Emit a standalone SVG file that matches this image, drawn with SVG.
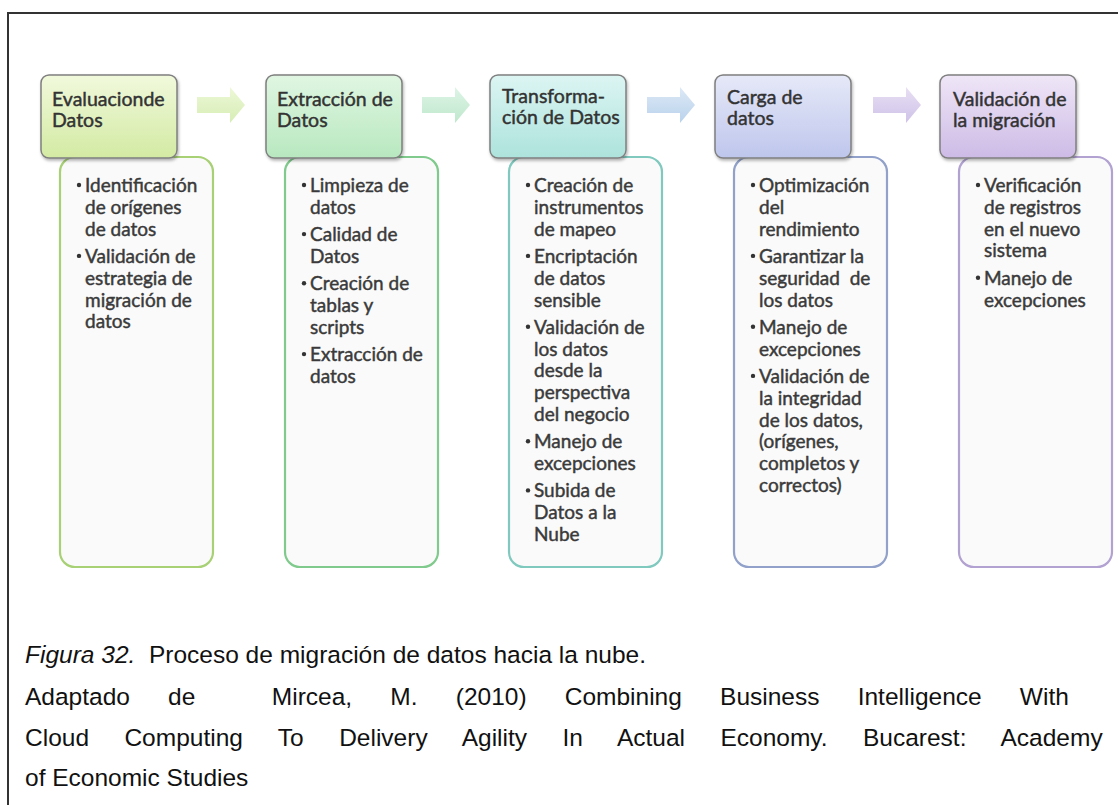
<svg xmlns="http://www.w3.org/2000/svg" width="1118" height="805" viewBox="0 0 1118 805">
<defs>
<linearGradient id="g1" x1="0" y1="0" x2="0" y2="1"><stop offset="0" stop-color="#f1f9dc"/><stop offset="1" stop-color="#d3eaa3"/></linearGradient>
<linearGradient id="g2" x1="0" y1="0" x2="0" y2="1"><stop offset="0" stop-color="#e0f6e2"/><stop offset="1" stop-color="#b8e8bf"/></linearGradient>
<linearGradient id="g3" x1="0" y1="0" x2="0" y2="1"><stop offset="0" stop-color="#dcf5f3"/><stop offset="1" stop-color="#ade3dc"/></linearGradient>
<linearGradient id="g4" x1="0" y1="0" x2="0" y2="1"><stop offset="0" stop-color="#e6e9f8"/><stop offset="1" stop-color="#bec6ec"/></linearGradient>
<linearGradient id="g5" x1="0" y1="0" x2="0" y2="1"><stop offset="0" stop-color="#efe6f7"/><stop offset="1" stop-color="#cdbbe6"/></linearGradient>
<linearGradient id="a1" x1="0" y1="0" x2="0" y2="1"><stop offset="0" stop-color="#eef8d8"/><stop offset="1" stop-color="#d6edb4"/></linearGradient>
<linearGradient id="a2" x1="0" y1="0" x2="0" y2="1"><stop offset="0" stop-color="#def4e6"/><stop offset="1" stop-color="#bfe8cd"/></linearGradient>
<linearGradient id="a3" x1="0" y1="0" x2="0" y2="1"><stop offset="0" stop-color="#dde9f6"/><stop offset="1" stop-color="#b9d2ec"/></linearGradient>
<linearGradient id="a4" x1="0" y1="0" x2="0" y2="1"><stop offset="0" stop-color="#e8e0f4"/><stop offset="1" stop-color="#cfc2e8"/></linearGradient>
<filter id="sh" x="-10%" y="-10%" width="125%" height="130%"><feDropShadow dx="1" dy="2" stdDeviation="1.5" flood-color="#000" flood-opacity="0.3"/></filter>
<path id="arrow" d="M0,10 H33 V0 L48,18 L33,36 V26 H0 Z"/>
</defs>
<style>
.hdr{stroke:#7f7f7f;stroke-width:1.5;filter:url(#sh)}
.det{fill:#fafafa;stroke-width:2.2}
.ht{font-family:Lato,"Open Sans",sans-serif;font-size:19.5px;fill:#333;stroke:#333;stroke-width:0.45}
.dt{font-family:Lato,"Open Sans",sans-serif;font-size:19px;fill:#3a3a3a;stroke:#3a3a3a;stroke-width:0.45}
.bl{fill:#333}
.cap{font-family:"Liberation Sans",Arial,sans-serif;font-size:24.5px;fill:#111;white-space:pre}
.frame{stroke:#333;stroke-width:2;fill:none}
</style>
<path class="frame" d="M8,805 V13 H1118"/>
<g id="connectors">
<use href="#arrow" x="197" y="87" fill="url(#a1)"/>
<use href="#arrow" x="422" y="87" fill="url(#a2)"/>
<use href="#arrow" x="647" y="87" fill="url(#a3)"/>
<use href="#arrow" x="873" y="87" fill="url(#a4)"/>
</g>
<g id="step1">
<rect class="det" x="60" y="157" width="153" height="410" rx="15" stroke="#a8d075"/>
<rect class="hdr" x="41" y="75" width="136" height="83" rx="8" fill="url(#g1)"/>
<text class="ht" x="52" y="106">Evaluacionde</text>
<text class="ht" x="52" y="127">Datos</text>
<circle class="bl" cx="79" cy="185" r="2.2"/><text class="dt" x="85" y="192">Identificación</text>
<text class="dt" x="85" y="213.8">de orígenes</text>
<text class="dt" x="85" y="235.6">de datos</text>
<circle class="bl" cx="79" cy="255.9" r="2.2"/><text class="dt" x="85" y="262.9">Validación de</text>
<text class="dt" x="85" y="284.7">estrategia de</text>
<text class="dt" x="85" y="306.5">migración de</text>
<text class="dt" x="85" y="328.3">datos</text>
</g>
<g id="step2">
<rect class="det" x="285" y="157" width="153" height="410" rx="15" stroke="#7fca8c"/>
<rect class="hdr" x="266" y="75" width="136" height="83" rx="8" fill="url(#g2)"/>
<text class="ht" x="277" y="106">Extracción de</text>
<text class="ht" x="277" y="127">Datos</text>
<circle class="bl" cx="304" cy="185" r="2.2"/><text class="dt" x="310" y="192">Limpieza de</text>
<text class="dt" x="310" y="213.8">datos</text>
<circle class="bl" cx="304" cy="234.1" r="2.2"/><text class="dt" x="310" y="241.1">Calidad de</text>
<text class="dt" x="310" y="262.9">Datos</text>
<circle class="bl" cx="304" cy="283.2" r="2.2"/><text class="dt" x="310" y="290.2">Creación de</text>
<text class="dt" x="310" y="312">tablas y</text>
<text class="dt" x="310" y="333.8">scripts</text>
<circle class="bl" cx="304" cy="354.1" r="2.2"/><text class="dt" x="310" y="361.1">Extracción de</text>
<text class="dt" x="310" y="382.9">datos</text>
</g>
<g id="step3">
<rect class="det" x="509" y="157" width="153" height="410" rx="15" stroke="#80c9be"/>
<rect class="hdr" x="490" y="75" width="136" height="83" rx="8" fill="url(#g3)"/>
<text class="ht" x="502" y="103">Transforma-</text>
<text class="ht" x="502" y="124">ción de Datos</text>
<circle class="bl" cx="528" cy="185" r="2.2"/><text class="dt" x="534" y="192">Creación de</text>
<text class="dt" x="534" y="213.8">instrumentos</text>
<text class="dt" x="534" y="235.6">de mapeo</text>
<circle class="bl" cx="528" cy="255.9" r="2.2"/><text class="dt" x="534" y="262.9">Encriptación</text>
<text class="dt" x="534" y="284.7">de datos</text>
<text class="dt" x="534" y="306.5">sensible</text>
<circle class="bl" cx="528" cy="326.8" r="2.2"/><text class="dt" x="534" y="333.8">Validación de</text>
<text class="dt" x="534" y="355.6">los datos</text>
<text class="dt" x="534" y="377.4">desde la</text>
<text class="dt" x="534" y="399.2">perspectiva</text>
<text class="dt" x="534" y="421">del negocio</text>
<circle class="bl" cx="528" cy="441.3" r="2.2"/><text class="dt" x="534" y="448.3">Manejo de</text>
<text class="dt" x="534" y="470.1">excepciones</text>
<circle class="bl" cx="528" cy="490.4" r="2.2"/><text class="dt" x="534" y="497.4">Subida de</text>
<text class="dt" x="534" y="519.2">Datos a la</text>
<text class="dt" x="534" y="541">Nube</text>
</g>
<g id="step4">
<rect class="det" x="734" y="157" width="153" height="410" rx="15" stroke="#91a1c9"/>
<rect class="hdr" x="715" y="75" width="136" height="83" rx="8" fill="url(#g4)"/>
<text class="ht" x="727" y="104">Carga de</text>
<text class="ht" x="727" y="125">datos</text>
<circle class="bl" cx="753" cy="185" r="2.2"/><text class="dt" x="759" y="192">Optimización</text>
<text class="dt" x="759" y="213.8">del</text>
<text class="dt" x="759" y="235.6">rendimiento</text>
<circle class="bl" cx="753" cy="255.9" r="2.2"/><text class="dt" x="759" y="262.9">Garantizar la</text>
<text class="dt" x="759" y="284.7" style="white-space:pre">seguridad  de</text>
<text class="dt" x="759" y="306.5">los datos</text>
<circle class="bl" cx="753" cy="326.8" r="2.2"/><text class="dt" x="759" y="333.8">Manejo de</text>
<text class="dt" x="759" y="355.6">excepciones</text>
<circle class="bl" cx="753" cy="375.9" r="2.2"/><text class="dt" x="759" y="382.9">Validación de</text>
<text class="dt" x="759" y="404.7">la integridad</text>
<text class="dt" x="759" y="426.5">de los datos,</text>
<text class="dt" x="759" y="448.3">(orígenes,</text>
<text class="dt" x="759" y="470.1">completos y</text>
<text class="dt" x="759" y="491.9">correctos)</text>
</g>
<g id="step5">
<rect class="det" x="959" y="157" width="153" height="410" rx="15" stroke="#b2a2d2"/>
<rect class="hdr" x="940" y="75" width="136" height="83" rx="8" fill="url(#g5)"/>
<text class="ht" x="953" y="106">Validación de</text>
<text class="ht" x="953" y="127">la migración</text>
<circle class="bl" cx="978" cy="185" r="2.2"/><text class="dt" x="984" y="192">Verificación</text>
<text class="dt" x="984" y="213.8">de registros</text>
<text class="dt" x="984" y="235.6">en el nuevo</text>
<text class="dt" x="984" y="257.4">sistema</text>
<circle class="bl" cx="978" cy="277.7" r="2.2"/><text class="dt" x="984" y="284.7">Manejo de</text>
<text class="dt" x="984" y="306.5">excepciones</text>
</g>
<g id="caption">
<text class="cap" x="25" y="663"><tspan font-style="italic">Figura 32.</tspan>  Proceso de migración de datos hacia la nube.</text>
<text class="cap" x="25" y="705" word-spacing="31.4">Adaptado de  Mircea, M. (2010) Combining Business Intelligence With</text>
<text class="cap" x="25" y="746" word-spacing="28.6">Cloud Computing To Delivery Agility In Actual Economy. Bucarest: Academy</text>
<text class="cap" x="25" y="786">of Economic Studies</text>
</g>
</svg>
